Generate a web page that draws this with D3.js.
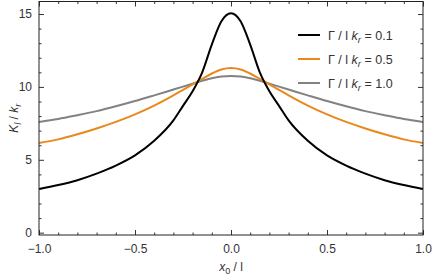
<!DOCTYPE html>
<html lang="en">
<head>
<meta charset="utf-8" />
<title>K ratio plot</title>
<script src="https://d3js.org/d3.v7.min.js"></script>
<style>
  body { margin: 0; background: #fff; }
  svg text { font-family: "Liberation Sans", Arial, sans-serif; fill: #333; }
</style>
</head>
<body>
<svg id="chart" width="432" height="279"></svg>
<script>
// data
const xs = [-1, -0.9, -0.8, -0.7, -0.6, -0.5, -0.4, -0.3, -0.25, -0.2, -0.15, -0.1, -0.05, 0,
            0.05, 0.1, 0.15, 0.2, 0.25, 0.3, 0.4, 0.5, 0.6, 0.7, 0.8, 0.9, 1];
const k01 = [3.0, 3.27, 3.6, 4.05, 4.6, 5.3, 6.3, 7.7, 8.7, 9.7, 11.0, 12.9, 14.5, 15.05,
             14.5, 12.9, 11.0, 9.7, 8.7, 7.7, 6.3, 5.3, 4.6, 4.05, 3.6, 3.27, 3.0];
const k05 = [6.15, 6.4, 6.75, 7.15, 7.6, 8.12, 8.72, 9.42, 9.8, 10.18, 10.55, 10.92, 11.2, 11.3,
             11.2, 10.92, 10.55, 10.18, 9.8, 9.42, 8.72, 8.12, 7.6, 7.15, 6.75, 6.4, 6.15];
const k10 = [7.6, 7.8, 8.06, 8.34, 8.67, 9.03, 9.42, 9.82, 10.02, 10.22, 10.42, 10.6, 10.71, 10.75,
             10.71, 10.6, 10.42, 10.22, 10.02, 9.82, 9.42, 9.03, 8.67, 8.34, 8.06, 7.8, 7.6];
const seriesLabels = ["0.1", "0.5", "1.0"];
const seriesColors = ["#000000", "#e8891d", "#828282"];
const xTicks = [-1, -0.5, 0, 0.5, 1];
const yTicks = [0, 5, 10, 15];

const svg = d3.select("#chart");
const pLeft = 39, pRight = 423, pTop = 1.5, pBottom = 235;

const x = d3.scaleLinear().domain([-1, 1]).range([pLeft, pRight]);
const y = d3.scaleLinear().domain([-0.16, 15.86]).range([pBottom, pTop]);

const xMinor = d3.range(-10, 11).map(d => d / 10).filter(d => !xTicks.includes(d));
const yMinor = d3.range(0, 16).filter(d => !yTicks.includes(d));

// curves
const line = d3.line()
    .x(d => x(d[0]))
    .y(d => y(d[1]))
    .curve(d3.curveMonotoneX);

const series = [k01, k05, k10];
const plot = svg.append("g");
// draw gray first so black sits on top
[2, 1, 0].forEach(i => {
    plot.append("path")
        .datum(xs.map((v, j) => [v, series[i][j]]))
        .attr("fill", "none")
        .attr("stroke", seriesColors[i])
        .attr("stroke-width", 2)
        .attr("d", line);
});

// axes with inward ticks, mirrored on top/right
function styleAxis(g) {
    g.select(".domain").remove();
    g.selectAll(".tick line").attr("stroke", "#333").attr("stroke-width", 1);
    g.selectAll(".tick text").attr("font-size", 12).attr("fill", "#333");
}
const fmt = d3.format(".1f");

svg.append("g").attr("transform", `translate(0,${pBottom})`)
    .call(d3.axisBottom(x).tickValues(xTicks).tickSize(-5).tickPadding(9).tickFormat(d => fmt(d).replace("-", "\u2212")))
    .call(styleAxis);
svg.append("g").attr("transform", `translate(0,${pBottom})`)
    .call(d3.axisBottom(x).tickValues(xMinor).tickSize(-2.5).tickFormat(""))
    .call(styleAxis);
svg.append("g").attr("transform", `translate(0,${pTop})`)
    .call(d3.axisTop(x).tickValues(xTicks).tickSize(-5).tickFormat(""))
    .call(styleAxis);
svg.append("g").attr("transform", `translate(0,${pTop})`)
    .call(d3.axisTop(x).tickValues(xMinor).tickSize(-2.5).tickFormat(""))
    .call(styleAxis);

svg.append("g").attr("transform", `translate(${pLeft},0)`)
    .call(d3.axisLeft(y).tickValues(yTicks).tickSize(-5).tickPadding(7))
    .call(styleAxis);
svg.append("g").attr("transform", `translate(${pLeft},0)`)
    .call(d3.axisLeft(y).tickValues(yMinor).tickSize(-2.5).tickFormat(""))
    .call(styleAxis);
svg.append("g").attr("transform", `translate(${pRight},0)`)
    .call(d3.axisRight(y).tickValues(yTicks).tickSize(-5).tickFormat(""))
    .call(styleAxis);
svg.append("g").attr("transform", `translate(${pRight},0)`)
    .call(d3.axisRight(y).tickValues(yMinor).tickSize(-2.5).tickFormat(""))
    .call(styleAxis);

// frame
svg.append("rect")
    .attr("x", pLeft).attr("y", pTop)
    .attr("width", pRight - pLeft).attr("height", pBottom - pTop)
    .attr("fill", "none").attr("stroke", "#222").attr("stroke-width", 1);

// axis labels
const xl = svg.append("text")
    .attr("x", x(0)).attr("y", 271)
    .attr("text-anchor", "middle").attr("font-size", 12);
xl.append("tspan").attr("font-style", "italic").text("x");
xl.append("tspan").attr("font-size", 9).attr("dy", 3).text("0");
xl.append("tspan").attr("dy", -3).text(" / l");

const yl = svg.append("text")
    .attr("transform", `translate(18,${(pTop + pBottom) / 2}) rotate(-90)`)
    .attr("text-anchor", "middle").attr("font-size", 12);
yl.append("tspan").attr("font-style", "italic").text("K");
yl.append("tspan").attr("font-size", 9).attr("font-style", "italic").attr("dy", 3).text("l");
yl.append("tspan").attr("dy", -3).text(" / ");
yl.append("tspan").attr("font-style", "italic").text("k");
yl.append("tspan").attr("font-size", 9).attr("font-style", "italic").attr("dy", 3).text("r");

// legend
const legend = svg.append("g");
seriesLabels.forEach((lab, i) => {
    const ly = 35 + i * 24;
    legend.append("line")
        .attr("x1", 298).attr("x2", 320)
        .attr("y1", ly).attr("y2", ly)
        .attr("stroke", seriesColors[i]).attr("stroke-width", 2);
    const t = legend.append("text")
        .attr("x", 328).attr("y", ly + 5)
        .attr("font-size", 12.5).attr("fill", "#111");
    t.append("tspan").text("\u0393 / l ");
    t.append("tspan").attr("font-style", "italic").text("k");
    t.append("tspan").attr("font-style", "italic").attr("font-size", 9.5).attr("dy", 3).text("r");
    t.append("tspan").attr("dy", -3).text(" = " + lab);
});
</script>
</body>
</html>
